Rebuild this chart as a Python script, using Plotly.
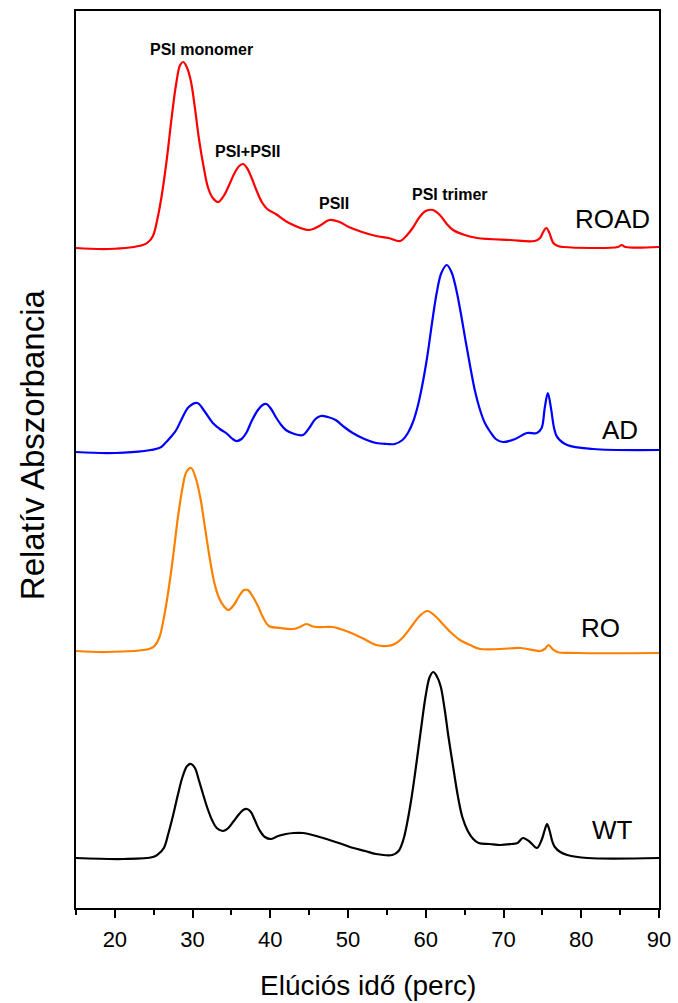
import plotly.graph_objects as go

# Elution time (min) and relative absorbance (arbitrary units, stacked with offsets)
road_x = [15, 19.2, 23.6, 24.3, 24.9, 25.5, 26.1, 26.7, 27.3, 27.9, 28.4, 28.8, 29.3, 29.8, 30.3, 30.8, 31.4, 32.0,
          32.6, 33.3, 34.0, 34.7, 35.4, 36.0, 36.5, 37.0, 37.6, 38.2, 38.9, 39.6, 40.7, 42.4, 45.0, 46.3, 47.6,
          48.9, 50.1, 51.8, 53.6, 55.2, 56.7, 57.6, 58.4, 59.2, 60.0, 60.9, 61.8, 62.7, 63.5, 65.0, 66.6, 70.8,
          74.0, 74.7, 75.1, 75.5, 75.9, 76.4, 77.0, 77.7, 84.7, 85.2, 85.7, 90]
road_y = [660, 659, 663, 666, 672, 690, 716, 750, 790, 825, 843, 846, 840, 826, 800, 770, 742, 720,
          710, 706, 712, 723, 735, 742, 744, 740, 730, 718, 706, 699, 694, 685, 678, 682, 688,
          686, 681, 676, 672, 670, 667, 673, 681, 691, 697, 698, 693, 684, 678, 673, 670, 668,
          667, 670, 676, 680, 675, 665, 662, 661, 661, 663, 661, 661]

ad_x = [15, 20.1, 25.7, 26.5, 27.2, 27.9, 28.6, 29.5, 30.6, 31.6, 32.6, 33.5, 34.3, 35.0, 35.6, 36.3, 36.9, 37.6,
        38.4, 39.0, 39.5, 40.1, 40.7, 41.4, 42.0, 43.1, 44.2, 45.0, 45.8, 46.5, 47.4, 48.4, 49.5, 50.6, 52.1, 53.6,
        55.0, 56.0, 57.0, 57.7, 58.4, 59.0, 59.6, 60.2, 60.8, 61.4, 62.0, 62.7, 63.3, 63.9, 64.5, 65.1, 65.7,
        66.3, 66.9, 67.6, 68.3, 69.0, 69.9, 71.5, 73.0, 74.3, 74.9, 75.3, 75.7, 76.1, 76.5, 76.9, 78.2, 81.5, 90]
ad_y = [456, 455, 460, 465, 471, 478, 489, 501, 505, 496, 485, 479, 475, 470, 467, 469, 475, 487,
        498, 503, 504, 499, 491, 483, 478, 474, 473, 480, 489, 492, 491, 488, 481, 475, 469, 465,
        464, 464, 468, 475, 487, 503, 525, 552, 585, 615, 635, 643, 636, 619, 595, 568, 542,
        518, 500, 485, 476, 469, 466, 469, 475, 475, 480, 500, 515, 500, 480, 471, 463, 459, 458]

ro_x = [15, 18.9, 24.4, 25.1, 25.7, 26.3, 26.9, 27.5, 28.1, 28.7, 29.2, 29.8, 30.4, 31.0, 31.6, 32.2, 32.8, 33.4,
        34.0, 34.6, 35.3, 36.0, 36.6, 37.1, 37.7, 38.4, 39.1, 39.8, 41.3, 42.9, 43.8, 44.6, 45.3, 45.9, 47.0,
        48.0, 49.0, 50.1, 51.8, 53.6, 55.0, 56.0, 57.1, 58.2, 59.2, 60.2, 61.2, 62.3, 63.3, 64.4, 65.7, 67.0,
        69.6, 72.2, 74.7, 75.3, 75.8, 76.3, 76.9, 79.5, 90]
ro_y = [257, 256, 259, 262, 270, 290, 318, 352, 390, 420, 436, 440, 430, 410, 380, 350, 325, 310,
        302, 298, 303, 312, 318, 318, 312, 302, 290, 282, 280, 279, 281, 284, 282, 281, 281,
        281, 279, 276, 270, 263, 262, 264, 271, 282, 292, 297, 292, 283, 275, 268, 263, 259,
        259, 260, 257, 259, 263, 259, 256, 255, 255]

wt_x = [15, 21.1, 24.9, 25.6, 26.3, 26.9, 27.5, 28.1, 28.7, 29.3, 29.8, 30.3, 30.8, 31.3, 31.9, 32.5, 33.1, 33.9,
        34.6, 35.3, 36.0, 36.5, 37.0, 37.5, 38.0, 38.6, 39.3, 40.1, 41.0, 42.0, 43.0, 44.2, 45.9, 47.6, 49.2, 50.7,
        52.2, 53.6, 55.7, 56.5, 57.1, 57.6, 58.2, 58.8, 59.4, 60.0, 60.5, 60.95, 61.4, 61.9, 62.4, 62.9, 63.5,
        64.1, 64.7, 65.4, 66.1, 66.8, 68.2, 69.6, 71.0, 71.8, 72.5, 73.4, 74.3, 74.9, 75.3, 75.6, 75.9, 76.3,
        76.6, 77.3, 78.2, 80.8, 90]
wt_y = [50, 49, 51, 54, 60, 75, 93, 113, 131, 142, 144, 140, 128, 115, 100, 88, 80, 77,
        80, 87, 94, 98, 99, 96, 88, 78, 71, 69, 72, 74, 75, 75, 72, 68, 64, 60,
        57, 54, 53, 57, 68, 85, 112, 145, 180, 213, 231, 236, 232, 222, 200, 172, 142,
        113, 91, 77, 69, 65, 64, 63, 64, 65, 70, 66, 60, 68, 78, 84, 78, 66,
        61, 56, 53, 50, 50]

series = [
    ("ROAD", road_x, road_y, "#ff0000"),
    ("AD", ad_x, ad_y, "#0000ff"),
    ("RO", ro_x, ro_y, "#ff8000"),
    ("WT", wt_x, wt_y, "#000000"),
]

# Curve labels (name, x, y)
curve_labels = [("ROAD", 83.96, 689), ("AD", 85.0, 478), ("RO", 82.5, 280), ("WT", 84.0, 78)]
# Peak annotations (text, x, y)
peak_labels = [("PSI monomer", 31.2, 859), ("PSI+PSII", 37.1, 757), ("PSII", 48.2, 705), ("PSI trimer", 63.1, 714)]

FONT = "Arial, Liberation Sans"

fig = go.Figure()
for name, xs, ys, col in series:
    fig.add_trace(go.Scatter(x=xs, y=ys, mode="lines", name=name,
                             line=dict(color=col, width=2.2, shape="spline", smoothing=1.0),
                             showlegend=False, hoverinfo="skip"))

for t, x, y in curve_labels:
    fig.add_annotation(x=x, y=y, text=t, showarrow=False, xanchor="center", yanchor="middle",
                       font=dict(size=26, color="#000000", family=FONT))
for t, x, y in peak_labels:
    fig.add_annotation(x=x, y=y, text="<b>" + t + "</b>", showarrow=False, xanchor="center", yanchor="middle",
                       font=dict(size=16, color="#000000", family=FONT))

# Axis titles as annotations for precise placement
fig.add_annotation(xref="paper", yref="paper", x=0.5, y=0, yshift=-77, text="Elúciós idő (perc)",
                   showarrow=False, xanchor="center", yanchor="middle",
                   font=dict(size=28, color="#000000", family=FONT))
fig.add_annotation(xref="paper", yref="paper", x=0, xshift=-44, y=0.516, text="Relatív Abszorbancia",
                   textangle=-90, showarrow=False, xanchor="center", yanchor="middle",
                   font=dict(size=33, color="#000000", family=FONT))

fig.update_layout(
    width=678, height=1003,
    margin=dict(l=76, r=19, t=11, b=95),
    plot_bgcolor="white", paper_bgcolor="white",
    font=dict(family=FONT, color="#000000"),
)
fig.update_xaxes(
    range=[15, 90], showgrid=False, zeroline=False, automargin=False,
    showline=True, linecolor="black", linewidth=1.5, mirror=True,
    ticks="outside", tickvals=[20, 30, 40, 50, 60, 70, 80, 90], ticklen=8, tickwidth=1.5, tickcolor="black",
    minor=dict(tickvals=[15, 25, 35, 45, 55, 65, 75, 85], ticks="outside", ticklen=5, tickwidth=1.5, tickcolor="black"),
    tickfont=dict(size=22), ticklabelstandoff=3,
)
fig.update_yaxes(
    range=[0, 897], showgrid=False, zeroline=False, automargin=False,
    showline=True, linecolor="black", linewidth=1.5, mirror=True,
    ticks="", showticklabels=False,
)

fig.write_html("out.html")
